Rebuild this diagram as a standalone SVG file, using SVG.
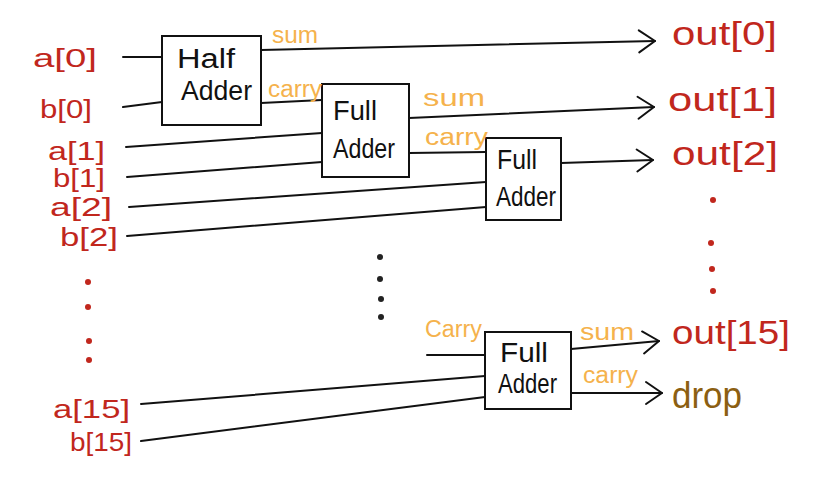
<svg xmlns="http://www.w3.org/2000/svg" width="838" height="492" viewBox="0 0 838 492">
<style>
.box{fill:#fff;stroke:#111;stroke-width:2}
.w{stroke:#111;stroke-width:2;fill:none;stroke-linecap:round}
.arr{marker-end:url(#chev)}
.lbl{font-family:"Liberation Sans",Arial,sans-serif;fill:#c1271d}
.in{font-size:26px}
.out{font-size:33px}
.drop{font-family:"Liberation Sans",Arial,sans-serif;font-size:36px;fill:#8c5f12}
.sig{font-family:"Liberation Sans",Arial,sans-serif;font-size:23px;fill:#f5b24c}
.bt{font-family:"Liberation Sans",Arial,sans-serif;font-size:27px;fill:#111}
.rd{fill:#c1271d}
.bd{fill:#222}
</style>
<defs>
<marker id="chev" markerUnits="userSpaceOnUse" viewBox="0 0 20 26" refX="18" refY="13" markerWidth="20" markerHeight="26" orient="auto">
<path d="M2,2 L18,13 L2,24" fill="none" stroke="#111" stroke-width="2" stroke-linecap="round" stroke-linejoin="round"/>
</marker>
</defs>
<rect width="838" height="492" fill="#fff"/>
<g id="connectors">
<line class="w" x1="123" y1="57" x2="162" y2="57"/>
<line class="w" x1="123" y1="107" x2="162" y2="102"/>
<line class="w arr" x1="261" y1="50" x2="655" y2="41"/>
<line class="w" x1="261" y1="103" x2="322" y2="100"/>
<line class="w" x1="126" y1="147" x2="322" y2="133"/>
<line class="w" x1="127" y1="177" x2="322" y2="162"/>
<line class="w" x1="129" y1="207" x2="486" y2="182"/>
<line class="w" x1="127" y1="236" x2="486" y2="207"/>
<line class="w arr" x1="409" y1="118" x2="654" y2="107"/>
<line class="w" x1="409" y1="153" x2="486" y2="152"/>
<line class="w arr" x1="561" y1="163" x2="653" y2="160"/>
<line class="w" x1="427" y1="355" x2="485" y2="355"/>
<line class="w" x1="141" y1="404" x2="485" y2="376"/>
<line class="w" x1="141" y1="441" x2="485" y2="397"/>
<line class="w arr" x1="571" y1="349" x2="659" y2="341"/>
<line class="w arr" x1="571" y1="393" x2="662" y2="393"/>
</g>
<g id="half-adder">
<rect class="box" x="162" y="36" width="99" height="89"/>
<text class="bt" x="177" y="68" textLength="58" lengthAdjust="spacingAndGlyphs">Half</text>
<text class="bt" x="181" y="100" textLength="71" lengthAdjust="spacingAndGlyphs">Adder</text>
</g>
<g id="full-adder-1">
<rect class="box" x="322" y="84" width="87" height="93"/>
<text class="bt" x="333" y="120" textLength="44" lengthAdjust="spacingAndGlyphs">Full</text>
<text class="bt" x="333" y="158" textLength="62" lengthAdjust="spacingAndGlyphs">Adder</text>
</g>
<g id="full-adder-2">
<rect class="box" x="486" y="138" width="75" height="82"/>
<text class="bt" x="497" y="169" font-size="24" textLength="40" lengthAdjust="spacingAndGlyphs">Full</text>
<text class="bt" x="496" y="206" font-size="25" textLength="60" lengthAdjust="spacingAndGlyphs">Adder</text>
</g>
<g id="full-adder-15">
<rect class="box" x="485" y="332" width="86" height="77"/>
<text class="bt" x="500" y="362" textLength="48" lengthAdjust="spacingAndGlyphs">Full</text>
<text class="bt" x="498" y="393" textLength="59" lengthAdjust="spacingAndGlyphs">Adder</text>
</g>
<g id="inputs">
<text class="lbl in" x="33" y="67" textLength="64" lengthAdjust="spacingAndGlyphs">a[0]</text>
<text class="lbl in" x="40" y="118" textLength="52" lengthAdjust="spacingAndGlyphs">b[0]</text>
<text class="lbl in" x="48" y="160" textLength="57" lengthAdjust="spacingAndGlyphs">a[1]</text>
<text class="lbl in" x="53" y="187" textLength="52" lengthAdjust="spacingAndGlyphs">b[1]</text>
<text class="lbl in" x="50" y="216" textLength="62" lengthAdjust="spacingAndGlyphs">a[2]</text>
<text class="lbl in" x="60" y="246" textLength="58" lengthAdjust="spacingAndGlyphs">b[2]</text>
<text class="lbl in" x="53" y="418" textLength="77" lengthAdjust="spacingAndGlyphs">a[15]</text>
<text class="lbl in" x="70" y="451" textLength="62" lengthAdjust="spacingAndGlyphs">b[15]</text>
</g>
<g id="outputs">
<text class="lbl out" x="672" y="45" textLength="105" lengthAdjust="spacingAndGlyphs">out[0]</text>
<text class="lbl out" x="668" y="111" textLength="109" lengthAdjust="spacingAndGlyphs">out[1]</text>
<text class="lbl out" x="672" y="165" textLength="106" lengthAdjust="spacingAndGlyphs">out[2]</text>
<text class="lbl out" x="672" y="344" textLength="118" lengthAdjust="spacingAndGlyphs">out[15]</text>
<text class="drop" x="672" y="408" textLength="70" lengthAdjust="spacingAndGlyphs">drop</text>
</g>
<g id="signal-labels">
<text class="sig" x="272" y="43" textLength="46" lengthAdjust="spacingAndGlyphs">sum</text>
<text class="sig" x="268" y="97" textLength="54" lengthAdjust="spacingAndGlyphs">carry</text>
<text class="sig" x="423" y="106" textLength="62" lengthAdjust="spacingAndGlyphs">sum</text>
<text class="sig" x="425" y="145" textLength="63" lengthAdjust="spacingAndGlyphs">carry</text>
<text class="sig" x="425" y="337" textLength="57" lengthAdjust="spacingAndGlyphs">Carry</text>
<text class="sig" x="580" y="340" textLength="54" lengthAdjust="spacingAndGlyphs">sum</text>
<text class="sig" x="583" y="383" textLength="55" lengthAdjust="spacingAndGlyphs">carry</text>
</g>
<g id="ellipses">
<circle class="rd" cx="88" cy="282" r="3"/>
<circle class="rd" cx="88" cy="307" r="3"/>
<circle class="rd" cx="89" cy="341" r="3"/>
<circle class="rd" cx="89" cy="360" r="3"/>
<circle class="rd" cx="713" cy="200" r="3"/>
<circle class="rd" cx="711" cy="243" r="3"/>
<circle class="rd" cx="712" cy="269" r="3"/>
<circle class="rd" cx="713" cy="291" r="3"/>
<circle class="bd" cx="380" cy="257" r="3"/>
<circle class="bd" cx="380" cy="279" r="3"/>
<circle class="bd" cx="381" cy="299" r="3"/>
<circle class="bd" cx="381" cy="317" r="3"/>
</g>
</svg>
